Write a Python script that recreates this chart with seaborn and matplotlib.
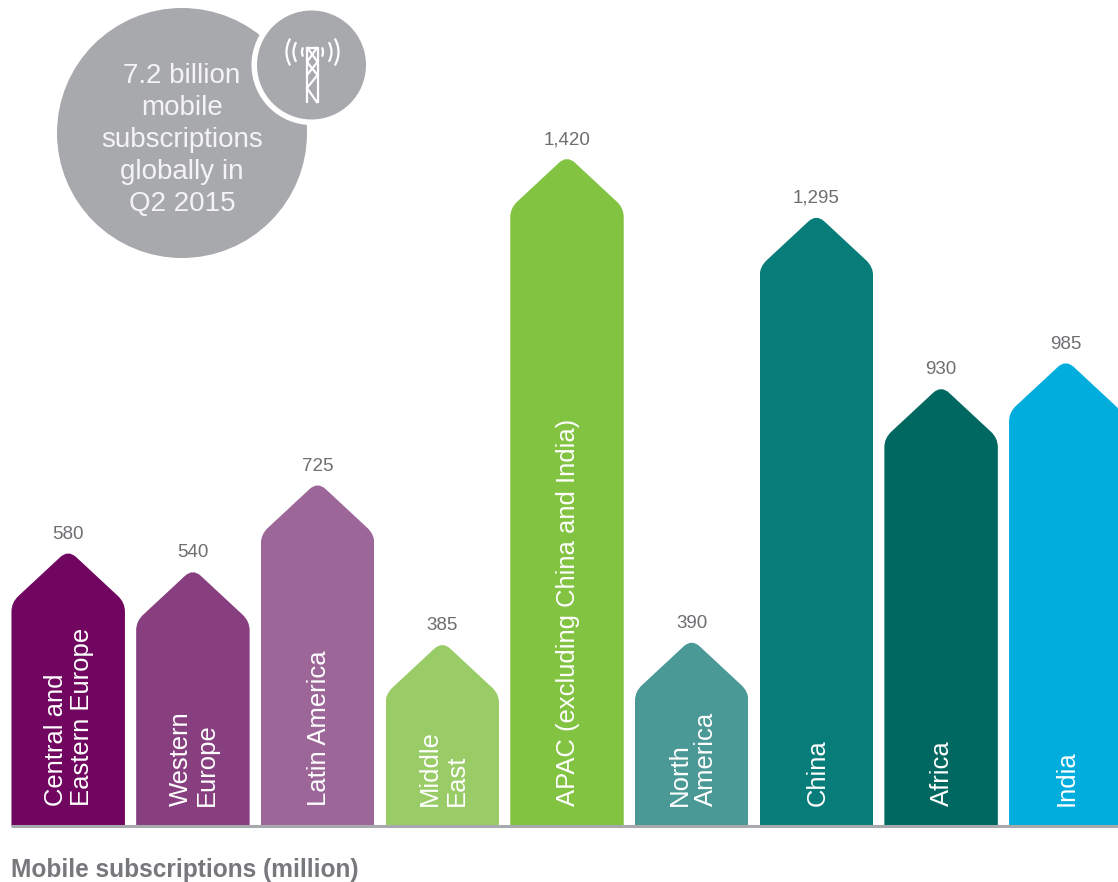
import matplotlib
matplotlib.use("Agg")
import matplotlib.pyplot as plt
from matplotlib.patches import Circle, PathPatch, Arc
from matplotlib.path import Path
import pandas as pd
import seaborn as sns

# Mobile subscriptions by region, Q2 2015 (million)
regions = ["Central and\nEastern Europe", "Western\nEurope", "Latin America", "Middle\nEast",
           "APAC (excluding China and India)", "North\nAmerica", "China", "Africa", "India"]
subscriptions = [580, 540, 725, 385, 1420, 390, 1295, 930, 985]
value_labels = ["580", "540", "725", "385", "1,420", "390", "1,295", "930", "985"]
bar_colors = ["#700660", "#873F80", "#9C6699", "#99CC66", "#82C341",
              "#4A9996", "#087C78", "#006860", "#00ADDC"]

W, H = 1118, 882
BASE_PX, PX_PER_UNIT = 826.0, 0.4695
FIRST_PX, STEP_PX = 68.2, 124.7
TEXT_FONT = "Liberation Sans"

sns.set_theme(style="white", rc={"font.family": TEXT_FONT})
fig = plt.figure(figsize=(W / 100, H / 100), dpi=100, facecolor="white")
ax = fig.add_axes([0, 0, 1, 1])

df = pd.DataFrame({"region": regions, "subscriptions": subscriptions})
sns.barplot(data=df, x="region", y="subscriptions", hue="region", palette=bar_colors,
            legend=False, width=0.91, saturation=1, linewidth=0, ax=ax)
ax.set_xlim(-FIRST_PX / STEP_PX, (W - FIRST_PX) / STEP_PX)
ax.set_ylim(-(H - BASE_PX) / PX_PER_UNIT, BASE_PX / PX_PER_UNIT)
ax.axis("off")


def house_path(left, right, top):
    """Upward arrow outline with a rounded tip and shoulders, in data units."""
    mid = (left + right) / 2
    half = (right - left) / 2
    sx = STEP_PX
    sy = PX_PER_UNIT
    tip = top + 4 / sy
    shoulder = tip - half * sx * 0.93 / sy
    verts = [
        (left, 0),
        (left, shoulder - 9 / sy),
        (left, shoulder),
        (left + 7 / sx, shoulder + 6.5 / sy),
        (mid - 8 / sx, tip - 8 * 0.93 / sy),
        (mid, tip),
        (mid + 8 / sx, tip - 8 * 0.93 / sy),
        (right - 7 / sx, shoulder + 6.5 / sy),
        (right, shoulder),
        (right, shoulder - 9 / sy),
        (right, 0),
        (left, 0),
    ]
    codes = [Path.MOVETO, Path.LINETO, Path.CURVE3, Path.CURVE3, Path.LINETO,
             Path.CURVE3, Path.CURVE3, Path.LINETO, Path.CURVE3, Path.CURVE3,
             Path.LINETO, Path.CLOSEPOLY]
    return Path(verts, codes)


# Clip each bar to its arrow outline; the outline's tip sits at the bar's value
for bar, label, value_text in zip(ax.patches, regions, value_labels):
    left, right = bar.get_x(), bar.get_x() + bar.get_width()
    # Bars are drawn a little taller so the clip outline alone shapes the tip
    top = bar.get_height()
    bar.set_height(top + 6 / PX_PER_UNIT)
    bar.set_clip_path(PathPatch(house_path(left, right, top), transform=ax.transData))
    mid = (left + right) / 2
    ax.annotate(value_text, (mid, top), xytext=(0, 11), textcoords="offset pixels",
                ha="center", va="bottom", fontsize=13.5, color="#6d6e71")
    ax.annotate(label, (mid, 0), xytext=(1, 20), textcoords="offset pixels",
                ha="left", va="center", rotation=90, rotation_mode="anchor",
                fontsize=18.45, color="white", linespacing=1.12, multialignment="left")

# Baseline under the bars
ax.hlines(0, ax.patches[0].get_x(), ax.get_xlim()[1], color="#a7a9ac", linewidth=2.2)

# Callout and axis caption live on a pixel-scaled overlay
ov = fig.add_axes([0, 0, 1, 1], facecolor="none")
ov.set_xlim(0, W)
ov.set_ylim(H, 0)
ov.axis("off")

GREY = "#a7a9ac"
ov.add_patch(Circle((182, 133), 125, color=GREY, lw=0))
ov.add_patch(Circle((311.5, 65), 60, color="white", lw=0))
ov.add_patch(Circle((311.5, 65), 54.5, color=GREY, lw=0))
callout_lines = ["7.2 billion", "mobile", "subscriptions", "globally in", "Q2 2015"]
for line, y in zip(callout_lines, [76, 108, 140, 172, 204]):
    ov.text(182, y, line, ha="center", va="center", fontsize=20, color="#f4f4f5")

# Radio mast icon
mast = dict(color="white", lw=1.6, solid_capstyle="butt", solid_joinstyle="miter")
ov.plot([307, 307], [47, 103], **mast)
ov.plot([317.5, 317.5], [47, 103], **mast)
ov.plot([307, 317.5], [47.5, 47.5], **mast)
ov.plot([317.5, 307, 317.5, 307, 317.5], [47, 62, 75, 88, 103], **mast)
ov.plot([307, 317.5, 307], [47, 62, 75], **mast)
for r, span in [(10.5, 26), (19, 31), (26, 31)]:
    for start in (180 - span, -span):
        ov.add_patch(Arc((312.5, 52), 2 * r, 2 * r, theta1=start, theta2=start + 2 * span,
                         color="white", lw=1.6))

ov.text(11, 870.5, "Mobile subscriptions (million)", ha="left", va="center",
        fontsize=17.65, fontweight="bold", color="#77787b")

fig.savefig("out.png", dpi=100)
